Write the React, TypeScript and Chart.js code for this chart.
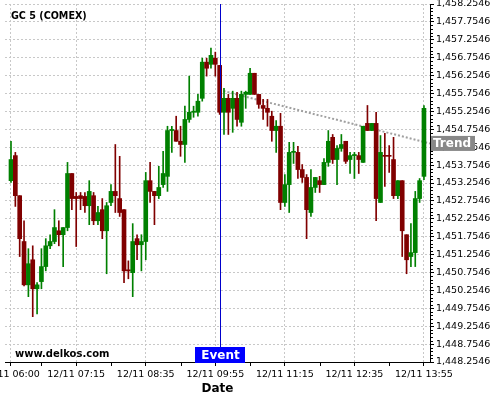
import { useEffect, useRef } from 'react';
import { Chart, registerables } from 'chart.js';

Chart.register(...registerables);

const opens = [
  1453.32, 1454.02, 1452.90, 1451.62, 1450.41, 1451.11, 1450.30, 1450.50, 1450.92, 1451.50,
  1451.62, 1451.92, 1451.81, 1452.01, 1453.52, 1452.88, 1452.90, 1452.88, 1452.62, 1452.90,
  1452.20, 1452.51, 1451.92, 1452.71, 1453.02, 1452.82, 1452.51, 1450.83, 1450.75, 1451.70,
  1451.53, 1451.62, 1453.32, 1453.02, 1452.90, 1453.21, 1453.44, 1454.72, 1454.72, 1454.42,
  1454.33, 1455.03, 1455.23, 1455.23, 1455.62, 1456.63, 1456.57, 1456.74, 1456.54, 1455.23,
  1455.62, 1455.34, 1455.62, 1454.95, 1455.73, 1455.73, 1456.32, 1455.73, 1455.42, 1455.34,
  1455.12, 1454.72, 1454.84, 1452.71, 1453.21, 1454.11, 1454.11, 1453.63, 1453.41, 1452.43,
  1453.13, 1453.32, 1453.21, 1453.83, 1454.53, 1453.91, 1454.22, 1454.42, 1453.91, 1454.02,
  1454.02, 1453.83, 1454.92, 1454.72, 1454.92, 1452.71, 1454.02, 1454.02, 1453.91, 1452.90,
  1453.32, 1451.81, 1451.20, 1451.31, 1452.82, 1453.44,
];
const highs = [
  1454.42, 1454.11, 1452.90, 1452.20, 1451.42, 1451.50, 1450.47, 1451.42, 1451.70, 1451.81,
  1452.51, 1452.20, 1452.01, 1453.83, 1453.52, 1452.99, 1452.99, 1452.99, 1453.32, 1452.99,
  1452.60, 1452.82, 1452.71, 1453.21, 1454.33, 1454.00, 1452.51, 1451.08, 1452.12, 1451.81,
  1451.81, 1453.55, 1453.83, 1453.02, 1453.72, 1454.14, 1454.84, 1454.84, 1455.12, 1454.84,
  1455.40, 1456.24, 1455.40, 1455.73, 1456.74, 1456.74, 1457.02, 1456.91, 1456.54, 1455.90,
  1455.73, 1455.82, 1455.79, 1455.82, 1455.82, 1456.46, 1456.32, 1455.73, 1455.59, 1455.59,
  1455.26, 1455.00, 1455.20, 1453.49, 1454.39, 1454.39, 1454.28, 1453.77, 1453.49, 1453.63,
  1453.41, 1453.44, 1453.94, 1454.72, 1454.61, 1454.30, 1454.61, 1454.42, 1454.11, 1454.11,
  1454.11, 1454.84, 1455.42, 1454.92, 1455.23, 1454.58, 1454.64, 1454.30, 1454.53, 1453.32,
  1453.32, 1451.81, 1452.12, 1453.02, 1453.38, 1455.42,
];
const lows = [
  1453.27, 1452.60, 1451.20, 1450.38, 1450.08, 1449.52, 1449.60, 1450.30, 1450.80, 1451.42,
  1451.56, 1451.50, 1450.92, 1451.92, 1452.51, 1451.48, 1452.51, 1452.43, 1452.09, 1452.09,
  1452.09, 1451.70, 1450.72, 1452.62, 1452.43, 1452.32, 1450.47, 1450.58, 1450.08, 1451.11,
  1450.80, 1451.11, 1452.71, 1452.09, 1452.82, 1453.13, 1453.02, 1454.11, 1454.42, 1454.00,
  1453.83, 1454.95, 1455.09, 1455.12, 1455.54, 1456.24, 1456.46, 1456.24, 1455.17, 1454.61,
  1454.61, 1454.67, 1454.84, 1454.84, 1455.34, 1455.73, 1455.73, 1455.34, 1455.03, 1454.84,
  1454.42, 1454.11, 1452.51, 1452.60, 1452.43, 1453.80, 1453.38, 1453.27, 1451.70, 1452.32,
  1452.99, 1452.99, 1453.21, 1453.72, 1453.80, 1453.21, 1454.14, 1453.80, 1453.52, 1453.38,
  1453.52, 1453.83, 1454.72, 1454.72, 1452.20, 1452.71, 1453.16, 1453.55, 1452.82, 1452.82,
  1451.20, 1450.72, 1450.92, 1450.92, 1452.71, 1453.35,
];
const closes = [
  1453.91, 1452.90, 1451.70, 1450.41, 1451.00, 1450.30, 1450.41, 1450.92, 1451.50, 1451.62,
  1452.01, 1451.81, 1452.01, 1453.52, 1452.82, 1452.82, 1452.82, 1452.62, 1453.02, 1452.20,
  1452.43, 1451.92, 1452.62, 1453.02, 1452.90, 1452.43, 1450.80, 1450.80, 1451.62, 1451.53,
  1451.62, 1453.32, 1453.02, 1452.90, 1453.13, 1453.52, 1454.72, 1454.75, 1454.42, 1454.33,
  1455.03, 1455.23, 1455.26, 1455.54, 1456.63, 1456.46, 1456.82, 1456.57, 1455.23, 1455.62,
  1455.23, 1455.62, 1455.03, 1455.73, 1455.79, 1456.32, 1455.73, 1455.45, 1455.34, 1455.23,
  1454.72, 1454.84, 1452.71, 1453.21, 1454.11, 1454.14, 1453.63, 1453.41, 1452.51, 1453.13,
  1453.41, 1453.21, 1453.83, 1454.42, 1453.91, 1454.22, 1454.33, 1453.86, 1454.02, 1454.05,
  1453.91, 1454.84, 1454.72, 1454.92, 1452.82, 1454.11, 1454.00, 1454.00, 1452.90, 1453.32,
  1451.92, 1451.11, 1451.31, 1452.82, 1453.32, 1455.34,
];

const xTickIndices = [0, 15, 31, 47, 63, 79, 95];
const xTickLabels = [
  '12/11 06:00', '12/11 07:15', '12/11 08:35', '12/11 09:55',
  '12/11 11:15', '12/11 12:35', '12/11 13:55',
];
const xMinorTickIndices = [7, 23, 39, 55, 71, 87];
const yTickValues = [
  1448.2546, 1448.7546, 1449.2546, 1449.7546, 1450.2546, 1450.7546, 1451.2546,
  1451.7546, 1452.2546, 1452.7546, 1453.2546, 1453.7546, 1454.2546, 1454.7546,
  1455.2546, 1455.7546, 1456.2546, 1456.7546, 1457.2546, 1457.7546, 1458.2546,
];
const trendX = [48, 96.39];
const trendY = [1455.85, 1454.36];
const eventIndex = 48;
const X_MIN = -1.38;
const X_MAX = 96.39;
const Y_MIN = 1448.2546;
const Y_MAX = 1458.2546;

const TITLE = 'GC 5 (COMEX)';
const WATERMARK = 'www.delkos.com';
const EVENT_LABEL = 'Event';
const TREND_LABEL = 'Trend';

const FONT = "'DejaVu Sans'";

const fmtY = (v: number) =>
  v.toLocaleString('en-US', { minimumFractionDigits: 4, maximumFractionDigits: 4 });

const overlayPlugin = {
  id: 'overlay',
  afterDraw(chart: any) {
    const { ctx, chartArea: ca, scales } = chart;
    const xs = scales.x;
    const ys = scales.y;
    ctx.save();

    // axis lines
    ctx.strokeStyle = '#000';
    ctx.lineWidth = 1;
    ctx.setLineDash([]);
    ctx.beginPath();
    ctx.moveTo(ca.left, ca.bottom + 0.5);
    ctx.lineTo(ca.right + 1, ca.bottom + 0.5);
    ctx.moveTo(ca.right + 0.5, ca.top);
    ctx.lineTo(ca.right + 0.5, ca.bottom + 1);
    ctx.stroke();

    // minor ticks y
    ctx.beginPath();
    for (let k = 0; k <= 100; k++) {
      if (k % 5 === 0) continue;
      const v = Y_MIN + k * 0.1;
      const py = Math.round(ys.getPixelForValue(v)) + 0.5;
      ctx.moveTo(ca.right + 1, py);
      ctx.lineTo(ca.right + 3, py);
    }
    // minor ticks x
    for (const idx of xMinorTickIndices) {
      const px = Math.round(xs.getPixelForValue(idx)) + 0.5;
      ctx.moveTo(px, ca.bottom + 1);
      ctx.lineTo(px, ca.bottom + 4);
    }
    ctx.stroke();

    // event line
    const ex = Math.round(xs.getPixelForValue(eventIndex)) + 0.5;
    ctx.strokeStyle = '#0000cc';
    ctx.beginPath();
    ctx.moveTo(ex, ca.top);
    ctx.lineTo(ex, ca.bottom);
    ctx.stroke();
    ctx.fillStyle = '#0000ff';
    ctx.fillRect(ex - 25.5, ca.bottom - 15, 50, 16);
    ctx.fillStyle = '#fff';
    ctx.font = `bold 12px ${FONT}`;
    ctx.textAlign = 'center';
    ctx.textBaseline = 'middle';
    ctx.fillText(EVENT_LABEL, ex, ca.bottom - 6);

    // trend label
    const ty = ys.getPixelForValue(trendY[1]);
    ctx.fillStyle = '#888888';
    ctx.fillRect(ca.right + 1, ty - 7.5, 44, 15);
    ctx.fillStyle = '#fff';
    ctx.textAlign = 'left';
    ctx.fillText(TREND_LABEL, ca.right + 3, ty + 0.5);

    // title
    ctx.fillStyle = '#000';
    ctx.font = `bold 9.6px ${FONT}`;
    ctx.fillText(TITLE, 11, 16);

    // watermark
    ctx.font = `bold 10px ${FONT}`;
    ctx.fillText(WATERMARK, 15, 354);

    ctx.restore();
  },
};

export default function App() {
  const ref = useRef<HTMLCanvasElement>(null);

  useEffect(() => {
    const canvas = ref.current;
    if (!canvas) return;
    Chart.defaults.font.family = FONT;
    Chart.defaults.color = '#000';

    const colors = opens.map((o, i) => (closes[i] >= o ? '#008000' : '#800000'));
    const bodies = opens.map((o, i) => ({ x: i, y: [o, closes[i]] }));
    const wicks = lows.map((l, i) => ({ x: i, y: [l, highs[i]] }));
    const trend = trendX.map((x, i) => ({ x, y: trendY[i] }));

    const gridOpts = {
      color: '#c8c8c8',
      tickColor: '#000',
      tickLength: 4,
      offset: false,
      drawOnChartArea: true,
    };

    const chart = new Chart(canvas, {
      type: 'bar',
      data: {
        datasets: [
          {
            type: 'bar',
            label: 'body',
            data: bodies as any,
            backgroundColor: colors,
            borderWidth: 0,
            barThickness: 4,
            grouped: false,
            minBarLength: 1,
            order: 0,
          } as any,
          {
            type: 'bar',
            label: 'wick',
            data: wicks as any,
            backgroundColor: colors,
            borderWidth: 0,
            barThickness: 1,
            grouped: false,
            order: 1,
          } as any,
          {
            type: 'line',
            label: 'trend',
            data: trend as any,
            borderColor: '#a0a0a0',
            borderWidth: 2,
            borderDash: [2, 2],
            pointRadius: 0,
            fill: false,
            order: 2,
          } as any,
        ],
      },
      options: {
        responsive: false,
        animation: false,
        devicePixelRatio: 1,
        layout: { padding: { left: 5, top: 4, right: 0, bottom: 0 } },
        plugins: {
          legend: { display: false },
          tooltip: { enabled: false },
        },
        scales: {
          x: {
            type: 'linear',
            position: 'bottom',
            min: X_MIN,
            max: X_MAX,
            offset: false,
            afterFit: (s: any) => {
              s.height = 38;
              s.paddingLeft = 0;
              s.paddingRight = 0;
            },
            afterBuildTicks: (s: any) => {
              s.ticks = xTickIndices.map((v) => ({ value: v }));
            },
            grid: gridOpts,
            border: { display: false, dash: [2, 2] },
            ticks: {
              autoSkip: false,
              maxRotation: 0,
              minRotation: 0,
              padding: 3,
              color: '#000',
              font: { size: 9.5 },
              callback: (value: any) => {
                const k = xTickIndices.indexOf(Number(value));
                return k >= 0 ? xTickLabels[k] : '';
              },
            },
            title: {
              display: true,
              text: 'Date',
              color: '#000',
              font: { size: 12, weight: 'bold' },
              padding: { top: 0, bottom: 4 },
            },
          },
          y: {
            type: 'linear',
            position: 'right',
            min: Y_MIN,
            max: Y_MAX,
            afterFit: (s: any) => {
              s.width = 70;
              s.paddingTop = 0;
              s.paddingBottom = 0;
            },
            afterBuildTicks: (s: any) => {
              s.ticks = yTickValues.map((v) => ({ value: v }));
            },
            grid: gridOpts,
            border: { display: false, dash: [2, 2] },
            ticks: {
              autoSkip: false,
              padding: 2,
              color: '#000',
              font: { size: 9.5 },
              callback: (value: any) => fmtY(Number(value)),
            },
          },
        },
      } as any,
      plugins: [overlayPlugin],
    });

    return () => chart.destroy();
  }, []);

  return (
    <div style={{ position: 'absolute', left: 0, top: 0, width: 500, height: 400, background: '#fff' }}>
      <canvas ref={ref} width={500} height={400} style={{ display: 'block' }} />
    </div>
  );
}
